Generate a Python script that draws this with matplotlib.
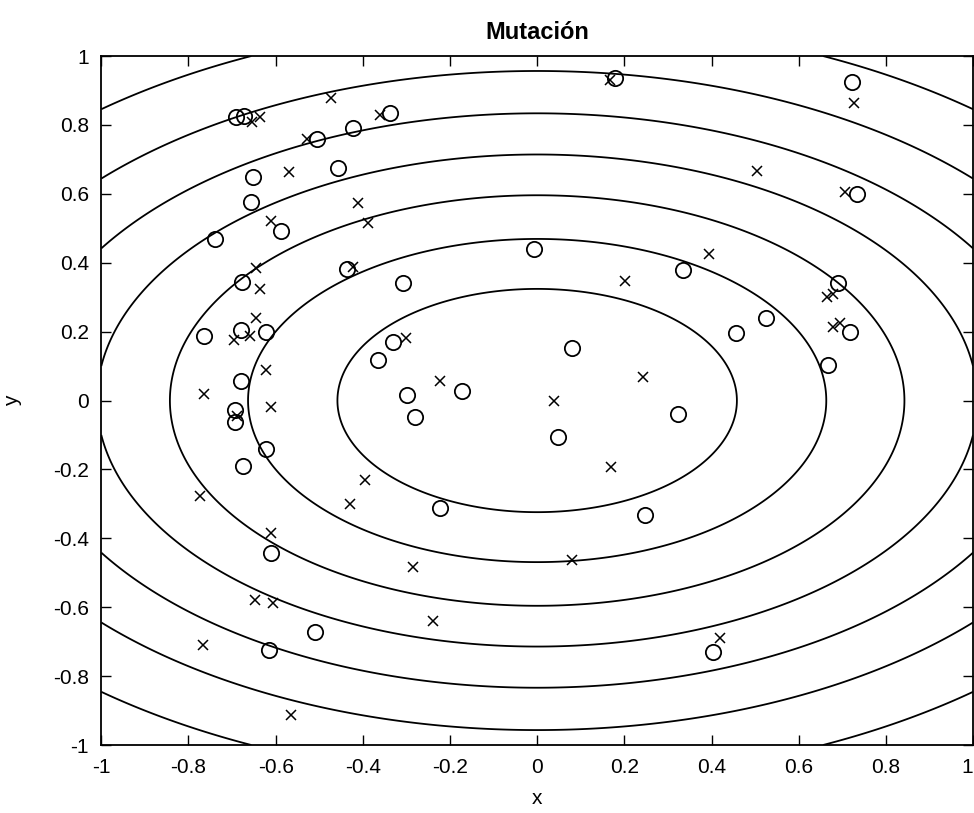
import numpy as np
import matplotlib.pyplot as plt

plt.rcParams['font.family'] = ['Liberation Sans Narrow', 'Liberation Sans', 'DejaVu Sans']

# contour levels of f(x, y) = x^2 + 2 y^2
levels = [0.21, 0.44, 0.71, 1.02, 1.39, 1.83, 2.43]

ticks = [-1, -0.8, -0.6, -0.4, -0.2, 0, 0.2, 0.4, 0.6, 0.8, 1]
tick_labels = ['-1', '-0.8', '-0.6', '-0.4', '-0.2', '0', '0.2', '0.4', '0.6', '0.8', '1']

# population before mutation (circles)
circ_x = [-0.690, -0.672, -0.505, -0.422, -0.653, -0.457, -0.657, -0.587, -0.740,
          -0.678, -0.436, -0.764, -0.679, -0.623, -0.365, -0.680, -0.694, -0.694,
          -0.621, -0.676, -0.611, -0.510, -0.616, 0.178, -0.338, -0.007, -0.307,
          0.081, -0.330, -0.298, -0.173, -0.281, 0.048, 0.322, -0.223, 0.247,
          0.722, 0.733, 0.335, 0.691, 0.525, 0.456, 0.718, 0.668, 0.404]
circ_y = [0.822, 0.826, 0.759, 0.790, 0.650, 0.676, 0.575, 0.492, 0.468,
          0.345, 0.381, 0.187, 0.205, 0.198, 0.118, 0.057, -0.028, -0.061,
          -0.142, -0.190, -0.442, -0.671, -0.724, 0.935, 0.835, 0.440, 0.340,
          0.152, 0.171, 0.016, 0.028, -0.049, -0.107, -0.039, -0.313, -0.332,
          0.925, 0.599, 0.379, 0.342, 0.239, 0.195, 0.200, 0.104, -0.729]

# mutated individuals (crosses)
mut_x = [-0.636, -0.655, -0.472, -0.361, -0.527, -0.569, -0.411, -0.611, -0.388,
         -0.644, -0.636, -0.423, -0.645, -0.696, -0.658, -0.621, -0.764, -0.611,
         -0.774, -0.395, -0.430, -0.611, -0.648, -0.606, -0.766, -0.564, 0.167,
         0.201, -0.300, -0.223, 0.039, 0.243, 0.169, -0.284, 0.081, -0.238,
         0.727, 0.505, 0.706, 0.395, 0.665, 0.678, 0.679, 0.695, 0.419, -0.688]
mut_y = [0.824, 0.809, 0.877, 0.829, 0.759, 0.662, 0.574, 0.522, 0.516,
         0.384, 0.323, 0.388, 0.239, 0.176, 0.187, 0.089, 0.018, -0.020,
         -0.277, -0.231, -0.301, -0.384, -0.579, -0.589, -0.709, -0.913, 0.930,
         0.348, 0.181, 0.058, 0.000, 0.067, -0.192, -0.482, -0.463, -0.640,
         0.863, 0.667, 0.606, 0.424, 0.300, 0.310, 0.212, 0.224, -0.689, -0.045]

fig = plt.figure(figsize=(9.74, 8.13), dpi=100)
ax = fig.add_axes([0.104, 0.0836, 0.895, 0.8475])

g = np.linspace(-1, 1, 401)
X, Y = np.meshgrid(g, g)
Z = X**2 + 2 * Y**2
ax.contour(X, Y, Z, levels=levels, colors='black', linewidths=1.3)

ax.plot(circ_x, circ_y, 'o', mfc='none', mec='black', ms=11, mew=1.3)
ax.plot(mut_x, mut_y, 'x', color='black', ms=7, mew=1.1)

ax.set_xlim(-1, 1)
ax.set_ylim(-1, 1)
ax.set_xticks(ticks)
ax.set_yticks(ticks)
ax.set_xticklabels(tick_labels)
ax.set_yticklabels(tick_labels)
ax.get_xticklabels()[-1].set_horizontalalignment('right')
ax.tick_params(direction='in', length=7, width=1, top=True, right=True,
               labelsize=15, pad=9)
for s in ax.spines.values():
    s.set_linewidth(1.3)

ax.set_title('Mutación', fontsize=17, fontweight='bold', pad=12)
ax.set_xlabel('x', fontsize=15, labelpad=9)
ax.set_ylabel('y', fontsize=15, labelpad=22)

fig.savefig('out.png', dpi=100, facecolor='white')
